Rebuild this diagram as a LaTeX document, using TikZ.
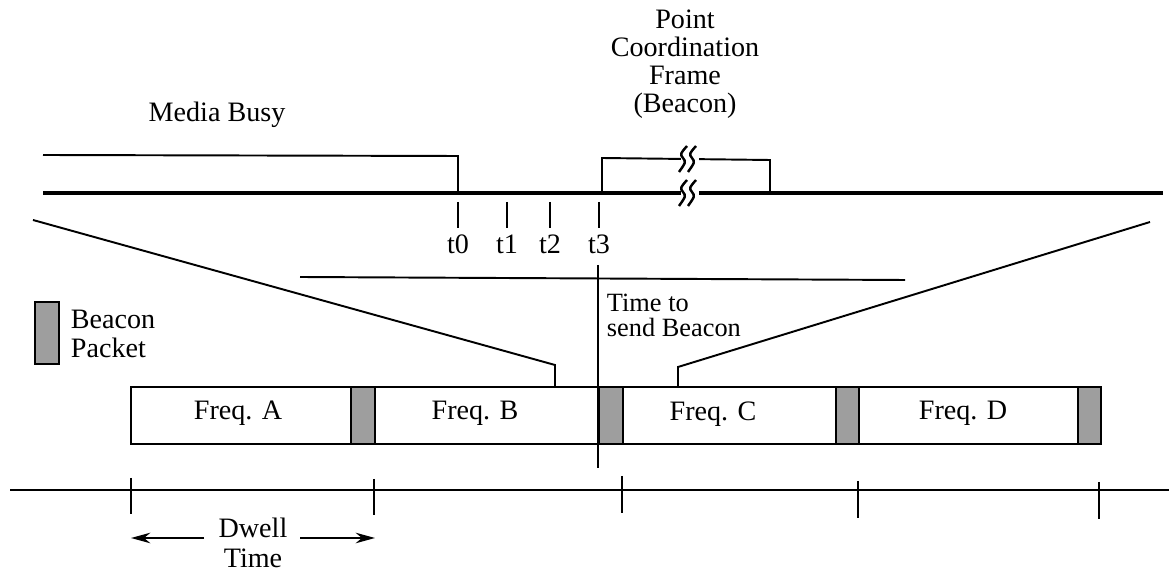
\documentclass[tikz,border=0pt]{standalone}
\usepackage{fontspec}
\setmainfont{Liberation Serif}
\usetikzlibrary{arrows,arrows.meta}

\begin{document}
\begin{tikzpicture}[x=0.02cm,y=-0.02cm,>={Stealth[length=11pt,width=6pt]},line width=1.1pt,
    font=\fontsize{16}{16}\selectfont]
  \tikzstyle{txt}=[inner sep=0pt,align=center]
  \tikzstyle{beacon}=[draw,fill=black!38]
  \tikzstyle{medium}=[line width=1.8pt]
  \tikzstyle{tick}=[line width=1.4pt]
  \useasboundingbox (0,0) rectangle (1169,573);

  % upper time line
  \node[txt] (busy) at (217,115) {Media Busy};
  \node[txt] (pcf)  at (685,64)  {Point\\Coordination\\Frame\\(Beacon)};

  \coordinate (m0) at (43,193);
  \coordinate (m1) at (1163,193);
  \coordinate (b0) at (43,155);
  \coordinate (b1) at (458,156);
  \coordinate (b2) at (458,193);
  \coordinate (f0) at (602,193);
  \coordinate (f1) at (602,158);
  \coordinate (f2) at (770,160);
  \coordinate (f3) at (770,193);

  \draw[medium] (m0) -- (m1);
  \draw (b0) -- (b1) -- (b2);
  \draw (f0) -- (f1) -- (f2) -- (f3);

  % breaks
  \foreach \y in {159,193} {
    \fill[white] (681,\y-4) rectangle (699,\y+4);
    \draw[tick] (687,\y-13) .. controls (680,\y-5) .. (683,\y-1)
                .. controls (686,\y+3) .. (679,\y+13);
    \draw[tick] (696,\y-13) .. controls (689,\y-5) .. (692,\y-1)
                .. controls (695,\y+3) .. (688,\y+13);
  }

  \foreach \x/\t in {458/t0,507/t1,550/t2,599/t3} {
    \draw[tick] (\x,202) -- (\x,228);
    \node[txt] (\t) at (\x,244) {\t};
  }

  % zoom lines
  \coordinate (zl0) at (33,220);
  \coordinate (zl1) at (555,365);
  \coordinate (zl2) at (555,387);
  \coordinate (zr0) at (1150,222);
  \coordinate (zr1) at (678,367);
  \coordinate (zr2) at (678,387);
  \coordinate (h0)  at (300,277);
  \coordinate (h1)  at (905,280);
  \coordinate (v0)  at (598,265);
  \coordinate (v1)  at (598,468);

  \draw (zl0) -- (zl1) -- (zl2);
  \draw (zr0) -- (zr1) -- (zr2);
  \draw (h0) -- (h1);
  \draw (v0) -- (v1);

  \node[txt,align=left,anchor=north west,font=\fontsize{15}{14.5}\selectfont]
    (send) at (606,293) {Time to\\send Beacon};

  % legend
  \draw[beacon] (35,302) rectangle (59,364);
  \node[txt,align=left,anchor=west,font=\fontsize{16}{17}\selectfont]
    (legend) at (70,334) {Beacon\\Packet};

  % hopping sequence
  \draw (131,387) rectangle (1101,444);
  \draw[beacon] (351,387) rectangle (375,444);
  \draw[beacon] (599,387) rectangle (623,444);
  \draw[beacon] (836,387) rectangle (859,444);
  \draw[beacon] (1078,387) rectangle (1101,444);

  \node[txt] (A) at (238,413) {Freq. A};
  \node[txt] (B) at (475,413) {Freq. B};
  \node[txt] (C) at (713,414) {Freq. C};
  \node[txt] (D) at (963,413) {Freq. D};

  % axis
  \coordinate (a0) at (10,490);
  \coordinate (a1) at (1169,490);
  \draw (a0) -- (a1);
  \draw (131,478) -- (131,514);
  \draw (374,479) -- (374,515);
  \draw (622,476) -- (622,513);
  \draw (858,481) -- (858,518);
  \draw (1099,482) -- (1099,519);

  \node[txt,font=\fontsize{16}{17}\selectfont] (dwell) at (253,543) {Dwell\\Time};
  \coordinate (d0) at (131,538);
  \coordinate (d1) at (204,538);
  \coordinate (d2) at (300,538);
  \coordinate (d3) at (375,538);
  \draw[->] (d1) -- (d0);
  \draw[->] (d2) -- (d3);
\end{tikzpicture}
\end{document}
